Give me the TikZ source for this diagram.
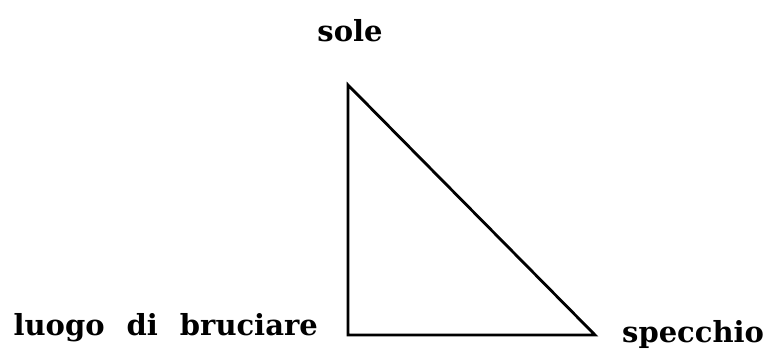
\documentclass[tikz,border=0pt]{standalone}
\usepackage{fontspec}
\setmainfont{DejaVu Serif}
\begin{document}
\begin{tikzpicture}[x=1pt,y=1pt,
  lbl/.style={font=\fontsize{29}{32}\selectfont\bfseries, inner sep=0pt, anchor=base},
  edge/.style={line width=2.8pt, line join=miter}]
\useasboundingbox (0,0) rectangle (771,352);
\coordinate (top) at (348,267);
\coordinate (bl) at (348,17);
\coordinate (br) at (595,17);
\draw[edge] (top) -- (bl) -- (br) -- cycle;
\node[lbl] (sole) at (350,310) {sole};
\node[lbl, anchor=base east] (luogo) at (318,16) {luogo\hspace{22pt}di\hspace{22pt}bruciare};
\node[lbl, anchor=base west] (specchio) at (622,9) {specchio};
\end{tikzpicture}
\end{document}
